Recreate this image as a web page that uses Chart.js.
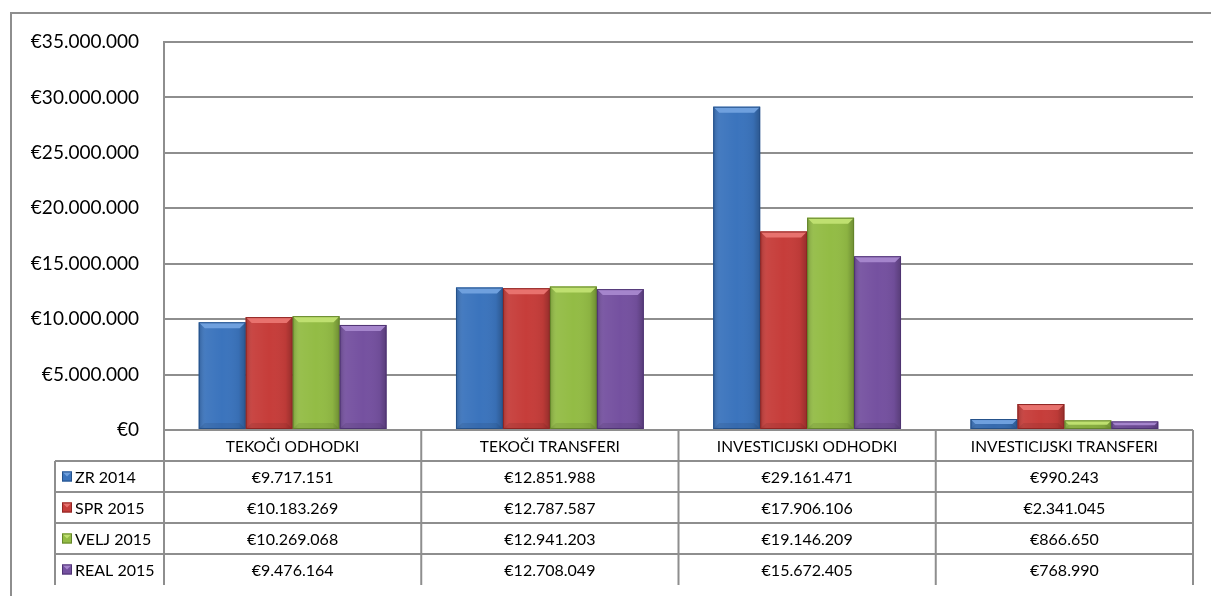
<!DOCTYPE html>
<html>
<head>
<meta charset="utf-8">
<script src="https://cdn.jsdelivr.net/npm/chart.js@4/dist/chart.umd.min.js"></script>
<style>
  html, body { margin: 0; padding: 0; background: #fff; }
  #wrap { position: relative; width: 1211px; height: 596px; }
</style>
</head>
<body>
<div id="wrap"><canvas id="chart" width="1211" height="596"></canvas></div>
<script>
const categories = ['TEKOČI ODHODKI', 'TEKOČI TRANSFERI', 'INVESTICIJSKI ODHODKI', 'INVESTICIJSKI TRANSFERI'];
const seriesNames = ['ZR 2014', 'SPR 2015', 'VELJ 2015', 'REAL 2015'];
const zr2014 = [9717151, 12851988, 29161471, 990243];
const spr2015 = [10183269, 12787587, 17906106, 2341045];
const velj2015 = [10269068, 12941203, 19146209, 866650];
const real2015 = [9476164, 12708049, 15672405, 768990];
const yTicks = [0, 5000000, 10000000, 15000000, 20000000, 25000000, 30000000, 35000000];

const COLORS = ['#3b74bd', '#c63d3a', '#93bc45', '#7551a0'];
const DARK = ['#24518a', '#8e2523', '#64852b', '#4e3372'];
const LIGHT = ['#6fa0de', '#e8726e', '#bfe070', '#a585cc'];
const LINE = '#8e8e8e';
const FONT = 'Lato, "Open Sans", sans-serif';

const fmt = v => '€' + v.toString().replace(/\B(?=(\d{3})+(?!\d))/g, '.');

const bevelPlugin = {
  id: 'bevel',
  afterDatasetsDraw(chart) {
    const ctx = chart.ctx;
    chart.data.datasets.forEach((ds, di) => {
      const meta = chart.getDatasetMeta(di);
      meta.data.forEach(bar => {
        const left = bar.x - bar.width / 2, right = bar.x + bar.width / 2;
        const top = bar.y, bottom = bar.base;
        const h = bottom - top;
        if (h <= 0) return;
        const b = Math.min(6, h / 2);
        ctx.save();
        // side shading
        const g = ctx.createLinearGradient(left, 0, right, 0);
        g.addColorStop(0, 'rgba(0,0,0,0.18)');
        g.addColorStop(0.15, 'rgba(255,255,255,0.05)');
        g.addColorStop(0.5, 'rgba(255,255,255,0.0)');
        g.addColorStop(0.85, 'rgba(0,0,0,0.05)');
        g.addColorStop(1, 'rgba(0,0,0,0.25)');
        ctx.fillStyle = g;
        ctx.fillRect(left, top, right - left, h);
        // top bevel
        ctx.fillStyle = LIGHT[di];
        ctx.beginPath();
        ctx.moveTo(left, top);
        ctx.lineTo(right, top);
        ctx.lineTo(right - b, top + b);
        ctx.lineTo(left + b, top + b);
        ctx.closePath();
        ctx.fill();
        // bottom bevel
        ctx.fillStyle = 'rgba(0,0,0,0.08)';
        ctx.beginPath();
        ctx.moveTo(left, bottom);
        ctx.lineTo(right, bottom);
        ctx.lineTo(right - b, bottom - b);
        ctx.lineTo(left + b, bottom - b);
        ctx.closePath();
        ctx.fill();
        ctx.strokeStyle = DARK[di];
        ctx.lineWidth = 1;
        ctx.strokeRect(left + 0.5, top + 0.5, right - left - 1, h - 1);
        ctx.restore();
      });
    });
  }
};

const tablePlugin = {
  id: 'dataTable',
  beforeDraw(chart) {
    const ctx = chart.ctx;
    ctx.save();
    ctx.strokeStyle = LINE;
    ctx.lineWidth = 2;
    ctx.strokeRect(11, 13, 1300, 700);
    ctx.restore();
  },
  afterDraw(chart) {
    const ctx = chart.ctx;
    const area = chart.chartArea;
    const x = chart.scales.x;
    const catW = (area.right - area.left) / categories.length;
    const rowH = 31;
    const top = area.bottom;
    const legendLeft = 55;
    const rows = [zr2014, spr2015, velj2015, real2015];
    ctx.save();
    ctx.strokeStyle = LINE;
    ctx.lineWidth = 2;
    // horizontal lines
    ctx.beginPath();
    ctx.moveTo(area.left, top); ctx.lineTo(area.right, top);
    for (let r = 1; r <= rows.length; r++) {
      ctx.moveTo(legendLeft, top + r * rowH); ctx.lineTo(area.right, top + r * rowH);
    }
    // vertical lines
    ctx.moveTo(legendLeft, top + rowH); ctx.lineTo(legendLeft, top + rowH * (rows.length + 1));
    for (let c = 0; c <= categories.length; c++) {
      const cx = x.getPixelForValue(c) - catW / 2;
      ctx.moveTo(cx, top); ctx.lineTo(cx, top + rowH * (rows.length + 1));
    }
    ctx.stroke();

    ctx.fillStyle = '#000';
    ctx.font = '15.5px ' + FONT;
    ctx.textBaseline = 'middle';
    ctx.textAlign = 'center';
    categories.forEach((c, i) => {
      ctx.fillText(c, x.getPixelForValue(i), top + rowH / 2 + 1);
    });
    ctx.font = '16px ' + FONT;
    rows.forEach((vals, r) => {
      const cy = top + rowH * (r + 1) + rowH / 2 + 1;
      vals.forEach((v, i) => {
        ctx.fillText(fmt(v), x.getPixelForValue(i), cy);
      });
    });
    // legend keys
    ctx.textAlign = 'left';
    seriesNames.forEach((name, r) => {
      const cy = top + rowH * (r + 1) + rowH / 2;
      const kx = 62, ky = cy - 5, ks = 10;
      ctx.fillStyle = COLORS[r];
      ctx.fillRect(kx, ky, ks, ks);
      ctx.fillStyle = LIGHT[r];
      ctx.beginPath();
      ctx.moveTo(kx, ky); ctx.lineTo(kx + ks, ky); ctx.lineTo(kx + ks / 2, ky + ks / 2); ctx.closePath();
      ctx.fill();
      ctx.strokeStyle = DARK[r];
      ctx.lineWidth = 1;
      ctx.strokeRect(kx + 0.5, ky + 0.5, ks - 1, ks - 1);
      ctx.fillStyle = '#000';
      ctx.fillText(name, 75, cy + 1);
    });
    ctx.restore();
  }
};

new Chart(document.getElementById('chart'), {
  type: 'bar',
  data: {
    labels: categories,
    datasets: [
      { label: seriesNames[0], data: zr2014, backgroundColor: COLORS[0] },
      { label: seriesNames[1], data: spr2015, backgroundColor: COLORS[1] },
      { label: seriesNames[2], data: velj2015, backgroundColor: COLORS[2] },
      { label: seriesNames[3], data: real2015, backgroundColor: COLORS[3] },
    ],
  },
  options: {
    responsive: false,
    animation: false,
    layout: { padding: { top: 42, right: 18, bottom: 166, left: 0 } },
    datasets: { bar: { categoryPercentage: 0.73, barPercentage: 1.0 } },
    plugins: {
      legend: { display: false },
      tooltip: { enabled: false },
    },
    scales: {
      x: { display: false },
      y: {
        min: 0,
        max: 35000000,
        afterBuildTicks: axis => { axis.ticks = yTicks.map(v => ({ value: v })); },
        afterFit: axis => { axis.width = 164; },
        grid: { color: LINE, lineWidth: 2, drawTicks: false },
        border: { color: LINE, width: 2 },
        ticks: {
          color: '#000',
          padding: 25,
          font: { family: FONT, size: 19 },
          callback: v => fmt(v),
        },
      },
    },
  },
  plugins: [tablePlugin, bevelPlugin],
});
</script>
</body>
</html>
